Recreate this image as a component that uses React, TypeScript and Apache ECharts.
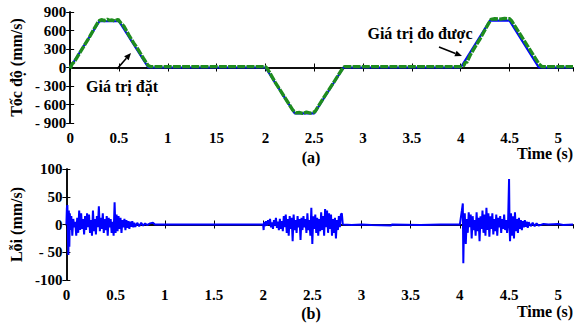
import React, { useEffect, useRef } from "react";
import * as echarts from "echarts";

// Setpoint (Giá trị đặt) profile
const setT = [0, 0.3, 0.5, 0.8, 2.0, 2.3, 2.5, 2.8, 4.0, 4.3, 4.5, 4.8, 5.15];
const setV = [0, 750, 750, 0, 0, -745, -745, 0, 0, 760, 760, 0, 0];

// Measured (Giá trị đo được)
const measT = [0, 0.01, 0.02, 0.03, 0.05, 0.08, 0.1, 0.15, 0.2, 0.25, 0.28, 0.3, 0.32, 0.35, 0.38, 0.4, 0.43, 0.46, 0.49, 0.5, 0.52, 0.55, 0.6, 0.65, 0.68, 0.7, 0.75, 0.8, 0.82, 1.0, 1.5, 2.0, 2.02, 2.1, 2.2, 2.28, 2.31, 2.35, 2.38, 2.42, 2.46, 2.49, 2.51, 2.6, 2.7, 2.78, 2.81, 3.0, 3.5, 4.0, 4.03, 4.05, 4.06, 4.1, 4.2, 4.28, 4.31, 4.35, 4.4, 4.45, 4.5, 4.52, 4.6, 4.7, 4.8, 4.83, 5.0, 5.15];
const measV = [-15, 20, 60, 70, 110, 190, 240, 370, 500, 640, 720, 760, 775, 760, 780, 765, 770, 755, 780, 760, 720, 670, 530, 400, 330, 280, 150, 30, 15, 15, 15, 15, -20, -240, -490, -690, -735, -730, -745, -725, -740, -730, -710, -480, -240, -40, 15, 15, 15, 15, 30, 90, 75, 210, 470, 700, 780, 790, 785, 795, 790, 760, 560, 310, 60, 15, 15, 15];

// Error (Lỗi) segments
const errSeg1: [number, number][] = [
  [0, 0], [0.005, 30], [0.01, 35], [0.015, -20], [0.02, -55], [0.025, 25], [0.03, -40], [0.035, 20], [0.04, -10],
  [0.05, 15], [0.06, -20], [0.07, 10], [0.08, -5], [0.09, 5], [0.1, -20], [0.11, 12], [0.12, -15], [0.13, 25],
  [0.14, -10], [0.15, 20], [0.16, -8], [0.17, 10], [0.18, -18], [0.19, 15], [0.2, -10], [0.21, 20], [0.22, -5],
  [0.23, 18], [0.24, -15], [0.25, 8], [0.26, -20], [0.27, 25], [0.28, -12], [0.29, 10], [0.3, -18], [0.31, 15],
  [0.32, -5], [0.33, 33], [0.34, -12], [0.35, 12], [0.36, -8], [0.37, 20], [0.38, -15], [0.39, 10], [0.4, -10],
  [0.41, 15], [0.42, -20], [0.43, 12], [0.44, -5], [0.45, 10], [0.46, -15], [0.47, 5], [0.48, -20], [0.49, 40],
  [0.5, -15], [0.51, 18], [0.52, -12], [0.53, 15], [0.54, -8], [0.55, 12], [0.56, -15], [0.57, 8], [0.58, -5],
  [0.59, 10], [0.6, -10], [0.61, 8], [0.62, -6], [0.63, 6], [0.64, -8], [0.65, 5], [0.66, -4], [0.67, 6],
  [0.68, -5], [0.69, 3], [0.7, -4], [0.72, 3], [0.74, -3], [0.76, 3], [0.78, -2], [0.8, 2], [0.82, -1],
  [0.85, 2], [0.88, 3], [0.9, 0], [1.0, 0], [1.5, 0], [2.0, 0],
];
const errSeg2: [number, number][] = [
  [2.005, -10], [2.01, 5], [2.02, -3], [2.03, 6], [2.04, -2], [2.05, 8], [2.06, 0], [2.07, 10], [2.08, -5],
  [2.09, 4], [2.1, -8], [2.11, 8], [2.12, -2], [2.13, 12], [2.14, -6], [2.15, 5], [2.16, -10], [2.17, 10],
  [2.18, -8], [2.19, 6], [2.2, -12], [2.21, 15], [2.22, -5], [2.23, 18], [2.24, -15], [2.25, 10], [2.26, -20],
  [2.27, 15], [2.28, -8], [2.29, 12], [2.3, -30], [2.31, 18], [2.32, -10], [2.33, 8], [2.34, -15], [2.35, 15],
  [2.36, -5], [2.37, 10], [2.38, -28], [2.39, 12], [2.4, -10], [2.41, 15], [2.42, -5], [2.43, 10], [2.44, -15],
  [2.45, 20], [2.46, -10], [2.47, 8], [2.48, -20], [2.49, 30], [2.5, -35], [2.51, 15], [2.52, -8], [2.53, 18],
  [2.54, -15], [2.55, 12], [2.56, -20], [2.57, 10], [2.58, -12], [2.59, 22], [2.6, -10], [2.61, 15], [2.62, -20],
  [2.63, 28], [2.64, -5], [2.65, 25], [2.66, -15], [2.67, 20], [2.68, -8], [2.69, 18], [2.7, -20], [2.71, 10],
  [2.72, -15], [2.73, 12], [2.74, -25], [2.75, 8], [2.76, -10], [2.77, 15], [2.78, -5], [2.79, 18], [2.8, 20],
  [2.81, 0], [2.9, -1], [3.0, 0], [3.1, -1], [3.3, -2], [3.31, 0], [3.6, -1], [3.8, 0], [4.0, 0],
];
const errSeg3: [number, number][] = [
  [4.02, 25], [4.03, 38], [4.035, -70], [4.04, -20], [4.05, 20], [4.06, -35], [4.07, 10], [4.08, -15], [4.09, 22],
  [4.1, -5], [4.11, 18], [4.12, -25], [4.13, 15], [4.14, -10], [4.15, 8], [4.16, -20], [4.17, 22], [4.18, -12],
  [4.19, 12], [4.2, -30], [4.21, 15], [4.22, -8], [4.23, 25], [4.24, -15], [4.25, 18], [4.26, -20], [4.27, 30],
  [4.28, -10], [4.29, 20], [4.3, -22], [4.31, 15], [4.32, -8], [4.33, 20], [4.34, -18], [4.35, 10], [4.36, -12],
  [4.37, 18], [4.38, -20], [4.39, 12], [4.4, -5], [4.41, 15], [4.42, -15], [4.43, 10], [4.44, -8], [4.45, 18],
  [4.46, -10], [4.47, 8], [4.48, -15], [4.49, 5], [4.5, 82], [4.505, -5], [4.51, -30], [4.52, 20], [4.53, -20],
  [4.54, 15], [4.55, -25], [4.56, 22], [4.57, -12], [4.58, 10], [4.59, -15], [4.6, 12], [4.61, -8], [4.62, 8],
  [4.63, -10], [4.64, 6], [4.65, -5], [4.66, 8], [4.67, -4], [4.68, 5], [4.69, -6], [4.7, 4], [4.72, -3],
  [4.74, 3], [4.76, -3], [4.78, 2], [4.8, -2], [4.85, 1], [4.9, 0], [5.0, 1], [5.05, -1], [5.15, 0],
];

const xTickLabelsA = ["0", "0.5", "1", "15", "2", "2.5", "3", "3.5", "4", "4.5", "5"];
const xTickLabelsB = ["0", "0.5", "1", "1.5", "2", "2.5", "3", "3.5", "4", "4.5", "5"];
const yTickValuesA = [900, 600, 300, 0, -300, -600, -900];
const yTickLabelsA = ["900", "600", "300", "0", "- 300", "- 600", "- 900"];
const yTickValuesB = [100, 50, 0, -50, -100];
const yTickLabelsB = ["100", "50", "0", "- 50", "-100"];

const FONT = '"Liberation Serif", "Times New Roman", serif';

function arrow(x1: number, y1: number, x2: number, y2: number) {
  const ang = Math.atan2(y2 - y1, x2 - x1);
  const L = 7, W = 3;
  const bx = x2 - L * Math.cos(ang), by = y2 - L * Math.sin(ang);
  const px = -Math.sin(ang) * W, py = Math.cos(ang) * W;
  return {
    type: "group",
    children: [
      { type: "line", shape: { x1, y1, x2: bx, y2: by }, style: { stroke: "#000", lineWidth: 1.6 } },
      { type: "polygon", shape: { points: [[x2, y2], [bx + px, by + py], [bx - px, by - py]] }, style: { fill: "#000" } },
    ],
  };
}

export default function App() {
  const ref = useRef<HTMLDivElement>(null);
  useEffect(() => {
    if (!ref.current) return;
    const chart = echarts.init(ref.current, null, { renderer: "svg" });
    const lab = { fontFamily: FONT, fontWeight: "bold", fontSize: 15, color: "#000" };
    const axisLine = { show: true, lineStyle: { color: "#000", width: 1.5 } };
    const tick = { show: true, inside: true, length: 4, lineStyle: { color: "#000", width: 1 } };
    const xAxisBase = (grid: number, labels: string[], pos: string, show: boolean) => ({
      type: "value", gridIndex: grid, position: pos, min: 0, max: 5.15, interval: 0.5,
      axisLine, axisTick: tick, splitLine: { show: false },
      axisLabel: {
        show, ...lab, margin: 7, showMaxLabel: false,
        formatter: (v: number) => labels[Math.round(v / 0.5)] ?? "",
      },
    });
    const yAxisBase = (grid: number, vals: number[], labels: string[], min: number, max: number, interval: number, pos: string, show: boolean, name: string) => ({
      type: "value", gridIndex: grid, position: pos, min, max, interval,
      axisLine, axisTick: tick, splitLine: { show: false },
      name: show ? name : "", nameLocation: "middle", nameGap: 42, nameRotate: 90,
      nameTextStyle: { fontFamily: FONT, fontWeight: "bold", fontSize: 16, color: "#000" },
      axisLabel: {
        show, ...lab, margin: 4,
        formatter: (v: number) => { const i = vals.indexOf(v); return i >= 0 ? labels[i] : ""; },
      },
    });
    const pairs = (t: number[], v: number[]) => t.map((x, i) => [x, v[i]]);
    const errData = [...errSeg1, ...errSeg2, ...errSeg3];
    const txt = (x: number, y: number, text: string, align = "center") => ({
      type: "text", x, y,
      style: { text, fontFamily: FONT, fontWeight: "bold", fontSize: 16, fill: "#000", align, verticalAlign: "middle" },
    });
    chart.setOption({
      animation: false,
      grid: [
        { left: 66, width: 507, top: 12, height: 111 },
        { left: 66, width: 507, top: 169, height: 111 },
      ],
      xAxis: [
        xAxisBase(0, xTickLabelsA, "bottom", true),
        xAxisBase(0, xTickLabelsA, "top", false),
        xAxisBase(1, xTickLabelsB, "bottom", true),
        xAxisBase(1, xTickLabelsB, "top", false),
      ],
      yAxis: [
        yAxisBase(0, yTickValuesA, yTickLabelsA, -900, 900, 300, "left", true, "Tốc độ (mm/s)"),
        yAxisBase(0, yTickValuesA, yTickLabelsA, -900, 900, 300, "right", false, ""),
        yAxisBase(1, yTickValuesB, yTickLabelsB, -100, 100, 50, "left", true, "Lỗi (mm/s)"),
        yAxisBase(1, yTickValuesB, yTickLabelsB, -100, 100, 50, "right", false, ""),
      ],
      series: [
        {
          type: "line", xAxisIndex: 0, yAxisIndex: 0, data: pairs(setT, setV), symbol: "none",
          lineStyle: { color: "#0000ff", width: 2.2 },
        },
        {
          type: "line", xAxisIndex: 0, yAxisIndex: 0, data: pairs(measT, measV), symbol: "none",
          lineStyle: { color: "#1e8c1e", width: 3.4, type: [8, 1.2] },
        },
        {
          type: "line", xAxisIndex: 2, yAxisIndex: 2, data: errData, symbol: "none",
          lineStyle: { color: "#0000ff", width: 2 },
        },
      ],
      graphic: [
        txt(122, 86, "Giá trị đặt"),
        arrow(117, 69, 131, 53),
        txt(420, 33, "Giá trị đo được"),
        arrow(439, 47, 462, 56),
        txt(311, 157, "(a)"),
        txt(545, 153, "Time (s)"),
        txt(311, 313, "(b)"),
        txt(545, 311, "Time (s)"),
      ],
    });
    return () => chart.dispose();
  }, []);
  return <div ref={ref} style={{ position: "absolute", left: 0, top: 0, width: 585, height: 323, background: "#fff" }} />;
}
